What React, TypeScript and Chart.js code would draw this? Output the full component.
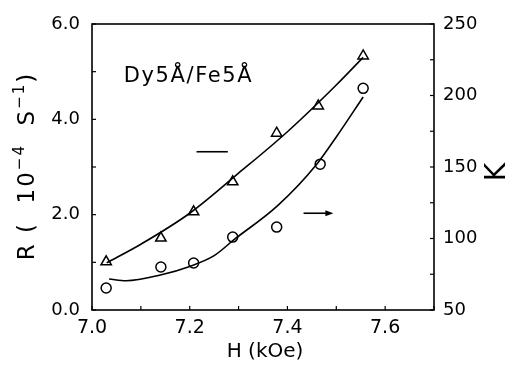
import { useEffect, useRef } from "react";
import { Chart, registerables } from "chart.js";

Chart.register(...registerables);

// Measured points (R on left axis, triangles)
const fieldTriangles = [7.029, 7.141, 7.208, 7.288, 7.378, 7.463, 7.555];
const rateValues = [1.01, 1.51, 2.06, 2.69, 3.71, 4.28, 5.33];
// Measured points (K on right axis, circles)
const fieldCircles = [7.029, 7.141, 7.208, 7.288, 7.378, 7.467, 7.555];
const kValues = [65.4, 80.1, 82.9, 101, 108, 152, 205];
// Smooth guide curves
const rateFitH = [7.03, 7.1, 7.2, 7.3, 7.4, 7.5, 7.555];
const rateFitR = [0.99, 1.38, 2.03, 2.87, 3.74, 4.72, 5.3];
const kFitH = [7.035, 7.07, 7.14, 7.2, 7.25, 7.29, 7.38, 7.46, 7.5, 7.555];
const kFitK = [71.7, 70.5, 74.5, 80.5, 88, 99, 123, 152, 171, 199];
// Axis ticks
const xTicks = [7.0, 7.2, 7.4, 7.6];
const rTicks = [0, 2, 4, 6];
const kTicks = [50, 100, 150, 200, 250];
// Texts
const sampleLabel = "Dy5Å/Fe5Å";
const xTitle = "H (kOe)";
const kTitle = "K";
// Annotation anchors (data coordinates)
const labelAnchor = { h: 7.065, r: 4.78 };
const leftMarker = { h0: 7.214, h1: 7.278, r: 3.32 };
const rightMarker = { h0: 7.433, h1: 7.494, r: 2.03 };

const FONT = "'DejaVu Sans', sans-serif";
const BLACK = "#000";

export default function App() {
  const ref = useRef<HTMLCanvasElement>(null);

  useEffect(() => {
    const canvas = ref.current!;
    const pts = (xs: number[], ys: number[]) => xs.map((x, i) => ({ x, y: ys[i] }));

    const annot = {
      id: "annot",
      afterDraw(chart: any) {
        const { ctx, chartArea: a, scales } = chart;
        const xs = scales.x, ys = scales.y;
        ctx.save();
        ctx.strokeStyle = BLACK;
        ctx.fillStyle = BLACK;
        ctx.lineWidth = 1.6;
        ctx.strokeRect(a.left, a.top, a.right - a.left, a.bottom - a.top);
        ctx.lineWidth = 1.2;
        const line = (x0: number, y0: number, x1: number, y1: number) => {
          ctx.beginPath();
          ctx.moveTo(x0, y0);
          ctx.lineTo(x1, y1);
          ctx.stroke();
        };
        for (let i = 0; i <= 7; i++) {
          const p = xs.getPixelForValue(7.0 + i * 0.1);
          line(p, a.bottom, p, a.bottom - 4);
        }
        for (let v = 0; v <= 6; v++) {
          const p = ys.getPixelForValue(v);
          line(a.left, p, a.left + 4, p);
        }
        const ks = scales.y2;
        for (let v = 50; v <= 250; v += 25) {
          const p = ks.getPixelForValue(v);
          line(a.right, p, a.right - 4, p);
        }

        // sample label
        ctx.font = `21px ${FONT}`;
        (ctx as any).letterSpacing = "1.6px";
        ctx.textAlign = "left";
        ctx.textBaseline = "alphabetic";
        ctx.fillText(sampleLabel, xs.getPixelForValue(labelAnchor.h), ys.getPixelForValue(labelAnchor.r));
        (ctx as any).letterSpacing = "0px";

        // left marker dash
        ctx.lineWidth = 1.6;
        const ly = ys.getPixelForValue(leftMarker.r);
        line(xs.getPixelForValue(leftMarker.h0), ly, xs.getPixelForValue(leftMarker.h1), ly);
        // right marker arrow
        const ry = ys.getPixelForValue(rightMarker.r);
        const rx0 = xs.getPixelForValue(rightMarker.h0);
        const rx1 = xs.getPixelForValue(rightMarker.h1);
        line(rx0, ry, rx1 - 4, ry);
        ctx.beginPath();
        ctx.moveTo(rx1, ry);
        ctx.lineTo(rx1 - 8, ry - 3);
        ctx.lineTo(rx1 - 8, ry + 3);
        ctx.closePath();
        ctx.fill();

        // x title
        ctx.font = `20px ${FONT}`;
        ctx.textAlign = "center";
        ctx.fillText(xTitle, (a.left + a.right) / 2 + 2, 357);

        // left title rotated
        ctx.save();
        ctx.translate(34, 166);
        ctx.rotate(-Math.PI / 2);
        const big = `23px ${FONT}`;
        const small = `15px ${FONT}`;
        (ctx as any).letterSpacing = "2px";
        const parts: [string, boolean][] = [
          ["R (  10", false],
          ["\u2212", true],
          ["4", true],
          ["  S", false],
          ["\u2212", true],
          ["1", true],
          [")", false],
        ];
        let total = 0;
        const widths = parts.map(([t, sup]) => {
          ctx.font = sup ? small : big;
          const w = ctx.measureText(t).width;
          total += w;
          return w;
        });
        let cx = -total / 2;
        ctx.textAlign = "left";
        parts.forEach(([t, sup], i) => {
          ctx.font = sup ? small : big;
          ctx.fillText(t, cx, sup ? -10 : 0);
          cx += widths[i];
        });
        (ctx as any).letterSpacing = "0px";
        ctx.restore();

        // right title rotated
        ctx.save();
        ctx.translate(505, 172);
        ctx.rotate(-Math.PI / 2);
        ctx.font = `28px ${FONT}`;
        ctx.textAlign = "center";
        ctx.fillText(kTitle, 0, 0);
        ctx.restore();

        ctx.restore();
      },
    };

    const chart = new Chart(canvas, {
      type: "scatter",
      data: {
        datasets: [
          {
            label: "R fit",
            data: pts(rateFitH, rateFitR),
            yAxisID: "y",
            showLine: true,
            pointRadius: 0,
            borderColor: BLACK,
            borderWidth: 1.6,
            cubicInterpolationMode: "monotone",
            fill: false,
          },
          {
            label: "K fit",
            data: pts(kFitH, kFitK),
            yAxisID: "y2",
            showLine: true,
            pointRadius: 0,
            borderColor: BLACK,
            borderWidth: 1.6,
            cubicInterpolationMode: "monotone",
            fill: false,
          },
          {
            label: "R",
            data: pts(fieldTriangles, rateValues),
            yAxisID: "y",
            showLine: false,
            pointStyle: "triangle",
            pointRadius: 6,
            borderColor: BLACK,
            borderWidth: 1.5,
            backgroundColor: "rgba(0,0,0,0)",
          },
          {
            label: "K",
            data: pts(fieldCircles, kValues),
            yAxisID: "y2",
            showLine: false,
            pointStyle: "circle",
            pointRadius: 5,
            borderColor: BLACK,
            borderWidth: 1.5,
            backgroundColor: "rgba(0,0,0,0)",
          },
        ],
      } as any,
      options: {
        animation: false,
        responsive: false,
        devicePixelRatio: 1,
        events: [],
        layout: { padding: { top: 24, left: 0, right: 0, bottom: 0 } },
        plugins: { legend: { display: false }, tooltip: { enabled: false } },
        scales: {
          x: {
            type: "linear",
            position: "bottom",
            min: 7.0,
            max: 7.7,
            afterBuildTicks: (s: any) => {
              s.ticks = xTicks.map((v) => ({ value: v }));
            },
            afterFit: (s: any) => {
              s.height = 56;
            },
            ticks: {
              callback: (v: any) => Number(v).toFixed(1),
              font: { family: FONT, size: 19 },
              color: BLACK,
              padding: 7,
              maxRotation: 0,
              autoSkip: false,
            },
            grid: { display: false, drawTicks: false },
            border: { display: false },
          },
          y: {
            type: "linear",
            position: "left",
            min: 0,
            max: 6,
            afterBuildTicks: (s: any) => {
              s.ticks = rTicks.map((v) => ({ value: v }));
            },
            afterFit: (s: any) => {
              s.width = 92;
            },
            ticks: {
              callback: (v: any) => Number(v).toFixed(1),
              font: { family: FONT, size: 18 },
              color: BLACK,
              padding: 12,
              autoSkip: false,
            },
            grid: { display: false, drawTicks: false },
            border: { display: false },
          },
          y2: {
            type: "linear",
            position: "right",
            min: 50,
            max: 250,
            afterBuildTicks: (s: any) => {
              s.ticks = kTicks.map((v) => ({ value: v }));
            },
            afterFit: (s: any) => {
              s.width = 75;
            },
            ticks: {
              callback: (v: any) => String(v),
              font: { family: FONT, size: 18 },
              color: BLACK,
              padding: 9,
              autoSkip: false,
            },
            grid: { display: false, drawTicks: false },
            border: { display: false },
          },
        },
      } as any,
      plugins: [annot],
    });
    return () => chart.destroy();
  }, []);

  return (
    <div style={{ position: "fixed", left: 0, top: 0, width: 509, height: 366, background: "#fff" }}>
      <canvas ref={ref} width={509} height={366} style={{ display: "block", width: 509, height: 366 }} />
    </div>
  );
}
